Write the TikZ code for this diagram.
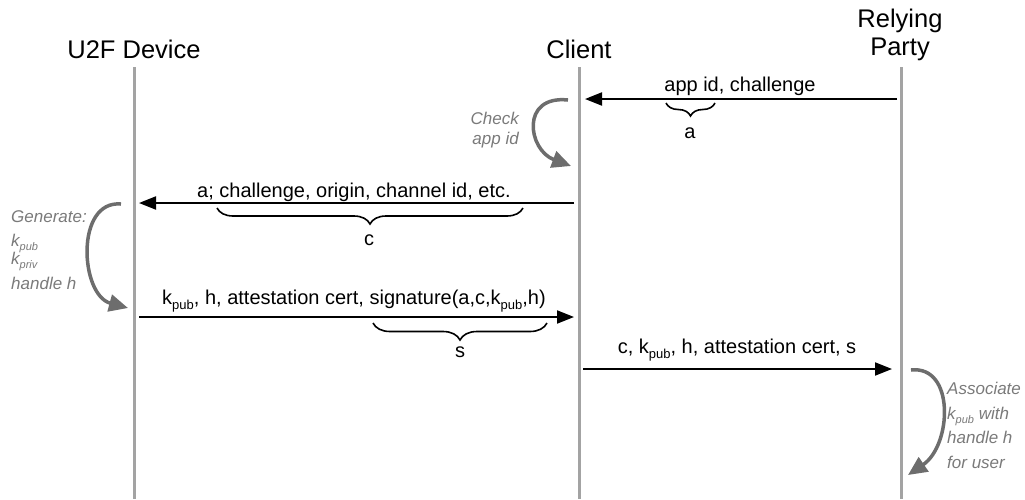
\documentclass[tikz,border=0pt]{standalone}
\usepackage{fontspec}
\setmainfont{Liberation Sans}
\usetikzlibrary{arrows.meta,decorations.pathreplacing}

\definecolor{lifegray}{HTML}{A3A3A3}
\definecolor{arcgray}{HTML}{6D6D6D}
\definecolor{notegray}{HTML}{7A7A7A}

% lowered subscripts for message labels and for italic notes
\newcommand\msub[1]{\raisebox{-5pt}{\fontsize{13}{13}\selectfont #1}}
\newcommand\isub[1]{\raisebox{-4pt}{\fontsize{11}{11}\selectfont #1}}

\tikzset{
  head/.style={inner sep=0pt, font=\fontsize{25.5}{27.5}\selectfont, align=center},
  lifeline/.style={draw=lifegray, line width=3pt},
  msg/.style={line width=2pt, -{Triangle[length=17pt,width=13pt]}},
  msgtext/.style={inner sep=0pt, font=\fontsize{20}{24}\selectfont},
  bracelabel/.style={inner sep=0pt, font=\fontsize{20}{24}\selectfont},
  curbrace/.style={decorate, line width=1.6pt, decoration={brace, mirror, amplitude=#1}},
  selfarc/.style={draw=arcgray, line width=3.5pt, -{Triangle[length=19pt,width=17pt]}},
  note/.style={inner sep=0pt, text=notegray, font=\fontsize{17}{20}\selectfont\itshape},
}

\begin{document}
\begin{tikzpicture}[x=1pt,y=-1pt]
\useasboundingbox (0,0) rectangle (1025,499);

% participants (base of a multi-line node is its last line)
\node[head, anchor=base] (hdev) at (134,58) {U2F Device};
\node[head, anchor=base] (hcli) at (579,58) {Client};
\node[head, anchor=base] (hrp) at (900,55) {Relying\\Party};

% lifelines
\coordinate (devT) at (134,67); \coordinate (devB) at (134,499);
\coordinate (cliT) at (579,67); \coordinate (cliB) at (579,499);
\coordinate (rpT)  at (901,67); \coordinate (rpB)  at (901,499);
\draw[lifeline] (devT) -- (devB);
\draw[lifeline] (cliT) -- (cliB);
\draw[lifeline] (rpT) -- (rpB);

% 1: relying party -> client
\coordinate (m1s) at (901,99); \coordinate (m1e) at (579,99);
\draw[msg, shorten <=4pt, shorten >=6pt] (m1s) -- (m1e);
\node[msgtext, anchor=base] (t1) at (740,91) {app id, challenge};
\coordinate (b1l) at (666,103); \coordinate (b1r) at (715,103);
\draw[curbrace=13pt] (b1l) -- (b1r);
\node[bracelabel] (la) at (690,133) {a};

% client checks the app id
\coordinate (c1s) at (568,100); \coordinate (c1e) at (571,166);
\draw[selfarc] (c1s) .. controls (520,95) and (528,150) .. (c1e);
\node[note, align=right, anchor=base east] (chk) at (519,144) {Check\\app id};

% 2: client -> device
\coordinate (m2s) at (579,203); \coordinate (m2e) at (134,203);
\draw[msg, shorten <=5pt, shorten >=5pt] (m2s) -- (m2e);
\node[msgtext, anchor=base] (t2) at (354,197) {a; challenge, origin, channel id, etc.};
\coordinate (b2l) at (217,208); \coordinate (b2r) at (523,208);
\draw[curbrace=16pt] (b2l) -- (b2r);
\node[bracelabel] (lc) at (369,240) {c};

% device generates the key pair
\coordinate (g1s) at (121,204); \coordinate (g1e) at (128,308);
\draw[selfarc] (g1s) .. controls (75,200) and (80,295) .. (g1e);
\node[note, anchor=base west] (gen1) at (11,222) {Generate:};
\node[note, anchor=base west] (gen2) at (11,246) {k\isub{pub}};
\node[note, anchor=base west] (gen3) at (11,264) {k\isub{priv}};
\node[note, anchor=base west] (gen4) at (11,289) {handle h};

% 3: device -> client
\coordinate (m3s) at (134,317); \coordinate (m3e) at (579,317);
\draw[msg, shorten <=5pt, shorten >=5pt] (m3s) -- (m3e);
\node[msgtext, anchor=base] (t3) at (354,304)
  {k\msub{pub}, h, attestation cert, signature(a,c,k\msub{pub},h)};
\coordinate (b3l) at (373,323); \coordinate (b3r) at (547,323);
\draw[curbrace=17pt] (b3l) -- (b3r);
\node[bracelabel] (ls) at (460,352) {s};

% 4: client -> relying party
\coordinate (m4s) at (579,369); \coordinate (m4e) at (901,369);
\draw[msg, shorten <=4pt, shorten >=9pt] (m4s) -- (m4e);
\node[msgtext, anchor=base] (t4) at (737,353) {c, k\msub{pub}, h, attestation cert, s};

% relying party stores the key
\coordinate (r1s) at (911,370); \coordinate (r1e) at (908,475);
\draw[selfarc] (r1s) .. controls (955,365) and (952,445) .. (r1e);
\node[note, align=left, anchor=base west, font=\fontsize{17}{24.5}\selectfont\itshape]
  (assoc) at (947,468) {Associate\\k\isub{pub} with\\handle h\\for user};
\end{tikzpicture}
\end{document}
